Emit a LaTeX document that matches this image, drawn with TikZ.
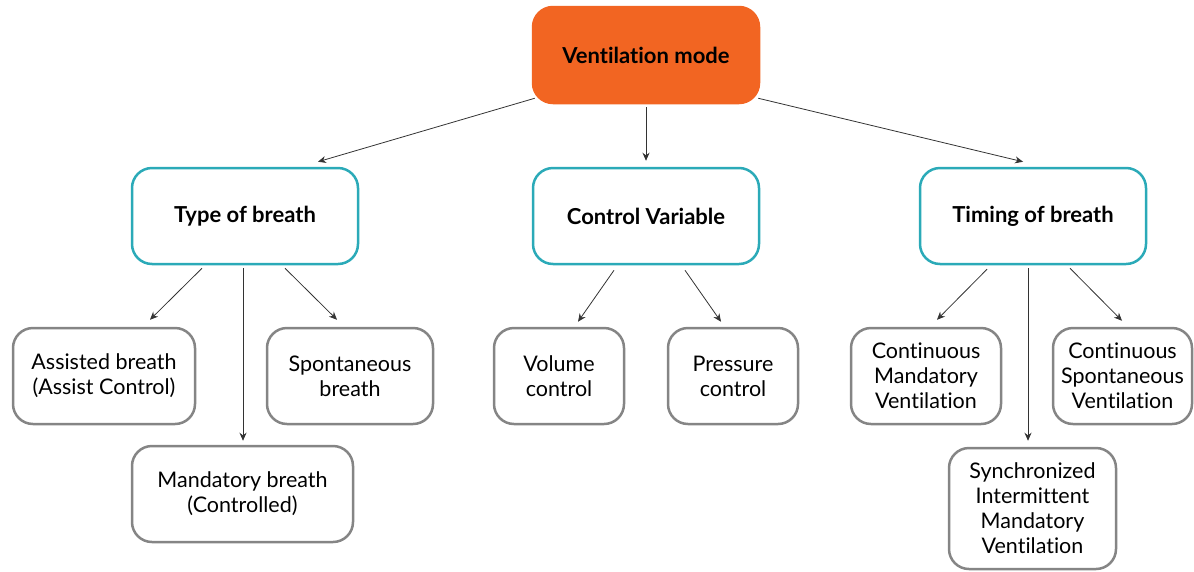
\documentclass[tikz,border=0pt]{standalone}
\usepackage{fontspec}
\setmainfont[Ligatures={NoCommon}]{Lato}
\usetikzlibrary{calc,arrows.meta}
\definecolor{vorange}{HTML}{F26522}
\definecolor{vteal}{HTML}{2BAAB8}
\definecolor{vgrey}{HTML}{858585}
\definecolor{vline}{HTML}{333333}
\tikzset{
  base/.style={rounded corners=20pt, line width=2.5pt, align=center, inner sep=0pt, minimum height=96pt, font=\fontsize{21.5}{25}\selectfont},
  topbox/.style={base, fill=vorange, draw=vorange, font=\fontsize{22}{25}\selectfont\bfseries},
  midbox/.style={base, draw=vteal, fill=white, font=\fontsize{22}{25}\selectfont\bfseries},
  leafbox/.style={base, draw=vgrey, fill=white},
  arr/.style={-{Stealth[length=8pt,width=7pt]}, line width=0.8pt, draw=vline},
}
\begin{document}
\begin{tikzpicture}[x=1pt,y=-1pt]
\useasboundingbox (0,0) rectangle (1194,571);
\begin{scope}
\clip (0,0) rectangle (1194,571);
\node[topbox, minimum width=226pt] (vm) at (646,55) {Ventilation mode};
\node[midbox, minimum width=226pt] (tob) at (245,216) {Type of breath};
\node[midbox, minimum width=226pt] (cv) at (646,216) {Control Variable};
\node[midbox, minimum width=226pt] (tim) at (1033,216) {Timing of breath};
\node[leafbox, minimum width=182pt] (ab) at (104,376) {Assisted breath\\(Assist Control)};
\node[leafbox, minimum width=166pt] (sb) at (350,376) {Spontaneous\\breath};
\node[leafbox, minimum width=221pt] (mb) at (242.5,494) {Mandatory breath\\(Controlled)};
\node[leafbox, minimum width=130pt] (vc) at (559,376) {Volume\\control};
\node[leafbox, minimum width=130pt] (pc) at (733,376) {Pressure\\control};
\node[leafbox, minimum width=150pt] (cmv) at (926,376) {Continuous\\Mandatory\\Ventilation};
\node[leafbox, minimum width=139pt] (csv) at (1122.5,376) {Continuous\\Spontaneous\\Ventilation};
\node[leafbox, minimum width=167pt, minimum height=121pt] (sim) at (1032.5,508.5) {Synchronized\\Intermittent\\Mandatory\\Ventilation};
\end{scope}
\draw[arr] ($(vm.south west)+(3,-6)$) -- ($(tob.north)+(73,-5)$);
\draw[arr] ($(vm.south)+(0,3)$) -- ($(cv.north)+(0,-6)$);
\draw[arr] ($(vm.south east)+(-2,-6)$) -- ($(tim.north)+(-10,-5)$);
\draw[arr] ($(tob.south)+(-43,3)$) -- ($(ab.north)+(46,-7)$);
\draw[arr] ($(tob.south)+(-2,3)$) -- ($(mb.north)+(0.5,-4)$);
\draw[arr] ($(tob.south)+(40,3)$) -- ($(sb.north)+(-13,-7)$);
\draw[arr] ($(cv.south)+(-32,5)$) -- ($(vc.north)+(19,-5)$);
\draw[arr] ($(cv.south)+(39,5)$) -- ($(pc.north)+(-12,-5)$);
\draw[arr] ($(tim.south)+(-46,4)$) -- ($(cmv.north)+(11,-7)$);
\draw[arr] ($(tim.south)+(-5,3)$) -- ($(sim.north)+(-4.5,-6)$);
\draw[arr] ($(tim.south)+(37,3)$) -- ($(csv.north)+(-0.5,-6)$);
\end{tikzpicture}
\end{document}
